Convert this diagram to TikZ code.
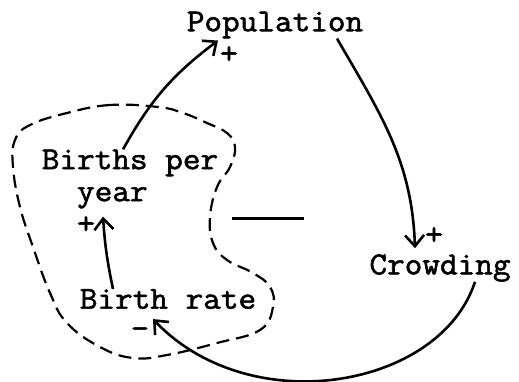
\documentclass[tikz,border=0pt]{standalone}
\usepackage{fontspec}
\newfontfamily\typefont[FakeBold=1.8,FakeStretch=1.07]{Latin Modern Mono}
\usetikzlibrary{arrows.meta}
\tikzset{
  var/.style={font=\typefont\fontsize{32}{32}\selectfont, inner sep=0pt, align=left},
  sign/.style={font=\typefont\fontsize{33}{33}\selectfont, inner sep=0pt},
  link/.style={line width=2.6pt, -{Straight Barb[length=11pt,width=19pt,line width=2.6pt]}},
  boundary/.style={line width=2.2pt, dash pattern=on 13pt off 7pt},
}
\begin{document}
\begin{tikzpicture}[x=1pt,y=-1pt]
  \useasboundingbox (0,0) rectangle (519,381);
  % variables of the loop
  \node[var] (pop)   at (275,25)  {Population};
  \node[var] (bpy)   at (130,179) {Births per\\\phantom{Bi}year};
  \node[var] (rate)  at (168,299) {Birth rate};
  \node[var] (crowd) at (440,268) {Crowding};
  % link polarities
  \node[sign] (ppop)   at (229,55)  {+};
  \node[sign] (pbpy)   at (86,225)  {+};
  \node[sign] (pcrowd) at (434,236) {+};
  \node[sign] (mrate)  at (140,333) {-};
  % causal links
  \draw[link] ([xshift=-7pt]bpy.north) to[bend left=12] ([xshift=-57pt,yshift=-2pt]pop.south);
  \draw[link] ([xshift=62pt]pop.south) to[out=-60,in=92] ([xshift=-25pt,yshift=6pt]crowd.north);
  \draw[link] ([xshift=35pt]crowd.south) .. controls +(-35,107) and +(97,102) .. ([xshift=-15pt,yshift=-10pt]rate.south);
  \draw[link] ([xshift=-55pt]rate.north) to[bend left=4] ([xshift=-27pt,yshift=-8pt]bpy.south);
  % loop polarity
  \coordinate (la) at (232,218);
  \coordinate (lb) at (304,218);
  \draw[line width=3pt] (la) -- (lb);
  % dashed boundary round the birth part
  \draw[boundary] plot[smooth cycle, tension=0.7] coordinates {
    (158,107) (110,105) (67,113) (30,125) (15,140) (13,167) (20,207)
    (33,247) (50,293) (67,323) (100,347) (133,358) (167,355) (217,343)
    (260,330) (273,307) (270,287) (253,273) (227,260) (213,243) (210,217)
    (217,187) (230,167) (235,147) (227,133) (207,123) (183,113)};
\end{tikzpicture}
\end{document}
